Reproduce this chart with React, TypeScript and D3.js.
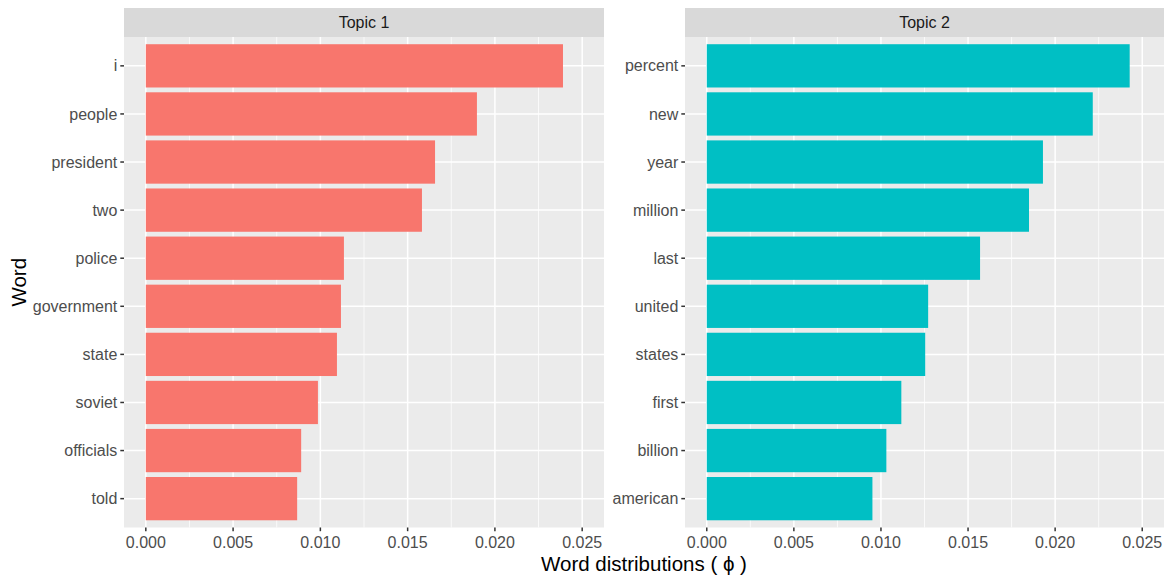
import React from "react";
import * as d3 from "d3";

const topic1Words = ["i", "people", "president", "two", "police", "government", "state", "soviet", "officials", "told"];
const topic1Values = [0.0239, 0.01897, 0.01657, 0.01582, 0.01135, 0.01118, 0.01095, 0.00986, 0.0089, 0.00867];
const topic2Words = ["percent", "new", "year", "million", "last", "united", "states", "first", "billion", "american"];
const topic2Values = [0.02428, 0.02216, 0.0193, 0.0185, 0.01569, 0.01271, 0.01254, 0.01117, 0.01031, 0.00951];
const panelTitles = ["Topic 1", "Topic 2"];
const xTicks = [0, 0.005, 0.01, 0.015, 0.02, 0.025];
const minorTicks = [0.0025, 0.0075, 0.0125, 0.0175, 0.0225];
const colors = ["#F8766D", "#00BFC4"];

const W = 1167;
const H = 580;
const panelTop = 37;
const panelBottom = 527.5;
const stripTop = 8;
const panels = [
  { left: 124, right: 604, words: topic1Words, values: topic1Values },
  { left: 685, right: 1164, words: topic2Words, values: topic2Values },
];
const font = "'Liberation Sans', Arial, Helvetica, sans-serif";
const tickFont = 16;
const tickLen = 3.7;

export default function App() {
  return (
    <svg width={W} height={H} style={{ position: "absolute", left: 0, top: 0, fontFamily: font }}>
      <rect x={0} y={0} width={W} height={H} fill="white" />
      {panels.map((p, pi) => {
        const x = d3.scaleLinear().domain([-0.00125, 0.02625]).range([p.left, p.right]);
        const y = d3
          .scalePoint<string>()
          .domain(p.words)
          .range([panelTop, panelBottom])
          .padding(0.6);
        const step = y.step();
        const bh = step * 0.9;
        return (
          <g key={pi}>
            <rect x={p.left} y={stripTop} width={p.right - p.left} height={panelTop - stripTop} fill="#D9D9D9" />
            <text
              x={(p.left + p.right) / 2}
              y={(stripTop + panelTop) / 2}
              dy="0.35em"
              textAnchor="middle"
              fontSize={tickFont}
              fill="#1A1A1A"
            >
              {panelTitles[pi]}
            </text>
            <rect x={p.left} y={panelTop} width={p.right - p.left} height={panelBottom - panelTop} fill="#EBEBEB" />
            {minorTicks.map((t) => (
              <line key={"m" + t} x1={x(t)} x2={x(t)} y1={panelTop} y2={panelBottom} stroke="white" strokeWidth={0.75} />
            ))}
            {xTicks.map((t) => (
              <line key={"M" + t} x1={x(t)} x2={x(t)} y1={panelTop} y2={panelBottom} stroke="white" strokeWidth={1.5} />
            ))}
            {p.words.map((w) => (
              <line key={"h" + w} x1={p.left} x2={p.right} y1={y(w)!} y2={y(w)!} stroke="white" strokeWidth={1.5} />
            ))}
            {p.words.map((w, i) => (
              <rect
                key={"b" + w}
                x={x(0)}
                y={y(w)! - bh / 2}
                width={x(p.values[i]) - x(0)}
                height={bh}
                fill={colors[pi]}
              />
            ))}
            {p.words.map((w) => (
              <g key={"t" + w}>
                <line x1={p.left - tickLen} x2={p.left} y1={y(w)!} y2={y(w)!} stroke="#333333" strokeWidth={1.5} />
                <text x={p.left - tickLen - 3} y={y(w)!} dy="0.35em" textAnchor="end" fontSize={tickFont} fill="#4D4D4D">
                  {w}
                </text>
              </g>
            ))}
            {xTicks.map((t) => (
              <g key={"xt" + t}>
                <line x1={x(t)} x2={x(t)} y1={panelBottom} y2={panelBottom + tickLen} stroke="#333333" strokeWidth={1.5} />
                <text x={x(t)} y={542} dy="0.35em" textAnchor="middle" fontSize={tickFont} fill="#4D4D4D">
                  {d3.format(".3f")(t)}
                </text>
              </g>
            ))}
          </g>
        );
      })}
      <text x={(124 + 1164) / 2} y={571} textAnchor="middle" fontSize={20.5} fill="black">
        Word distributions ( ϕ )
      </text>
      <text
        transform={`translate(${25.5},${(panelTop + panelBottom) / 2}) rotate(-90)`}
        textAnchor="middle"
        fontSize={20.5}
        fill="black"
      >
        Word
      </text>
    </svg>
  );
}
